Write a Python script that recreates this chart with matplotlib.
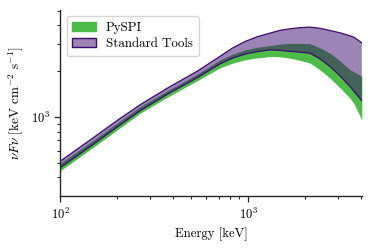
import matplotlib
matplotlib.use("Agg")
import matplotlib.pyplot as plt
from matplotlib.patches import Patch

plt.rcParams['font.family'] = 'serif'
plt.rcParams['font.serif'] = ['cmr10']
plt.rcParams['mathtext.fontset'] = 'cm'
plt.rcParams['axes.formatter.use_mathtext'] = True
plt.rcParams['axes.unicode_minus'] = False

# Energy grid [keV]
energy = [100, 150, 200, 266, 375, 535, 710, 822, 964, 1117, 1309, 1480,
          1673, 1891, 2137, 2415, 2731, 3087, 3488, 3663, 4030]

# PySPI band (nuFnu)
pyspi_low = [441, 630, 815, 1054, 1354, 1725, 2101, 2249, 2371, 2444, 2493, 2482,
             2433, 2354, 2256, 2038, 1797, 1552, 1328, 1218, 956]
pyspi_high = [494, 700, 906, 1164, 1494, 1904, 2371, 2577, 2759, 2866, 2945, 3008,
              3045, 3045, 3022, 2844, 2625, 2336, 2038, 1977, 1847]

# Standard tools band (nuFnu)
std_low = [462, 659, 853, 1095, 1417, 1805, 2232, 2426, 2585, 2685, 2759, 2738,
           2697, 2665, 2625, 2408, 2143, 1861, 1583, 1472, 1274]
std_high = [510, 728, 941, 1199, 1552, 1992, 2501, 2823, 3129, 3360, 3554, 3708,
            3793, 3862, 3892, 3822, 3696, 3570, 3411, 3334, 3068]

green = '#4cbb47'
purple = '#3c0a6e'

fig = plt.figure(figsize=(3.73, 2.48), dpi=100)
ax = fig.add_axes([0.161, 0.21, 0.809, 0.75])

ax.fill_between(energy, pyspi_low, pyspi_high, color=green, lw=0, label='PySPI')
ax.fill_between(energy, std_low, std_high, facecolor=purple, alpha=0.5,
                lw=0, label='Standard Tools')
ax.plot(energy, std_low, color=purple, lw=0.9)
ax.plot(energy, std_high, color=purple, lw=0.9)

handles = [Patch(facecolor=green, edgecolor=green, label='PySPI'),
           Patch(facecolor=(60/255, 10/255, 110/255, 0.5), edgecolor=purple, lw=1.0,
                 label='Standard Tools')]

ax.set_xscale('log')
ax.set_yscale('log')
ax.set_xlim(100, 4030)
ax.set_ylim(302, 5050)

for s in ['top', 'right']:
    ax.spines[s].set_visible(False)
for s in ['left', 'bottom']:
    ax.spines[s].set_color('#262626')
    ax.spines[s].set_linewidth(1.0)
ax.tick_params(which='major', length=4, width=0.9, color='#262626', labelsize=9, direction='out')
ax.tick_params(which='minor', length=2.5, width=0.7, color='#262626', direction='out')

ax.set_xlabel('Energy [keV]', fontsize=9.2)
ax.set_ylabel(r'$\nu F \nu$ [keV cm$^{-2}$ s$^{-1}$]', fontsize=9.5)

leg = ax.legend(handles=handles, loc='upper left', fontsize=9.3, frameon=True,
                fancybox=True, edgecolor='#cccccc', framealpha=0.8,
                handlelength=1.8, borderpad=0.45, labelspacing=0.3)

fig.savefig('out.png', dpi=100)
